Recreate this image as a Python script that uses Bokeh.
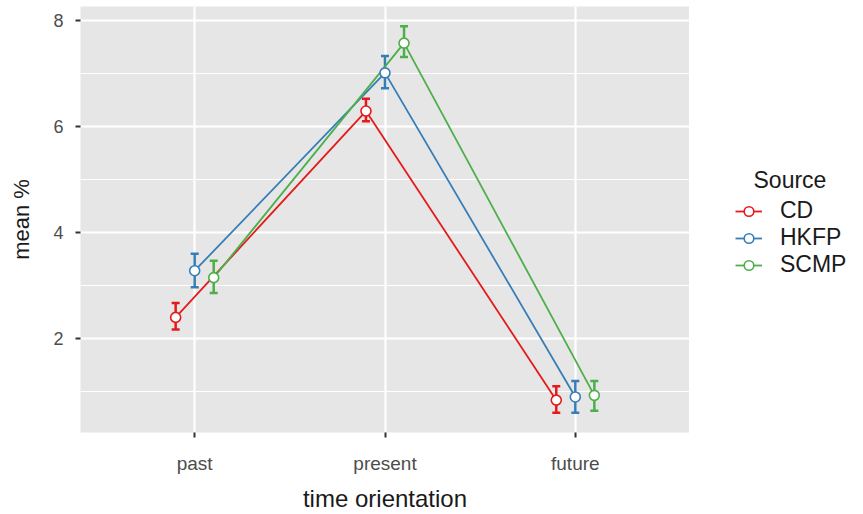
from bokeh.plotting import figure
from bokeh.layouts import row
from bokeh.models import (Range1d, FixedTicker, Legend, LegendItem, ColumnDataSource, Whisker,
                          TeeHead, Label)
from bokeh.embed import file_html
from bokeh.resources import INLINE

categories = ["past", "present", "future"]
sources = ["CD", "HKFP", "SCMP"]
colors = ["#E41A1C", "#377EB8", "#4DAF4A"]

cd_mean = [2.40, 6.29, 0.84]
cd_lower = [2.17, 6.10, 0.60]
cd_upper = [2.67, 6.52, 1.10]

hkfp_mean = [3.28, 7.01, 0.90]
hkfp_lower = [2.97, 6.72, 0.60]
hkfp_upper = [3.60, 7.33, 1.20]

scmp_mean = [3.15, 7.57, 0.93]
scmp_lower = [2.86, 7.31, 0.64]
scmp_upper = [3.47, 7.89, 1.20]

y_ticks = [2, 4, 6, 8]
y_minor = [1, 3, 5, 7]
dodge_offsets = [-0.1, 0.0, 0.1]

FONT = "Liberation Sans"

p = figure(width=689, height=514, output_backend="svg", toolbar_location=None,
           x_range=Range1d(0.4, 3.6), y_range=Range1d(0.23, 8.261),
           min_border_left=80, min_border_right=0, min_border_top=6, min_border_bottom=77,
           background_fill_color="#E6E6E6", border_fill_color="white", outline_line_color=None)

series = [(cd_mean, cd_lower, cd_upper), (hkfp_mean, hkfp_lower, hkfp_upper),
          (scmp_mean, scmp_lower, scmp_upper)]

srcs = []
for (m, lo, up), col, off in zip(series, colors, dodge_offsets):
    xs = [i + 1 + off for i in range(len(categories))]
    src = ColumnDataSource(dict(x=xs, y=m, lower=lo, upper=up))
    p.line("x", "y", source=src, line_color=col, line_width=1.8)
    w = Whisker(source=src, base="x", upper="upper", lower="lower", line_color=col, line_width=2.5,
                upper_head=TeeHead(size=8, line_color=col, line_width=2.5),
                lower_head=TeeHead(size=8, line_color=col, line_width=2.5))
    p.add_layout(w)
    srcs.append(src)

for src, col in zip(srcs, colors):
    p.scatter("x", "y", source=src, size=10, fill_color="white", line_color=col, line_width=1.6)

p.xaxis.ticker = FixedTicker(ticks=[i + 1 for i in range(len(categories))], minor_ticks=[])
p.xaxis.major_label_overrides = {i + 1: c for i, c in enumerate(categories)}
p.yaxis.ticker = FixedTicker(ticks=y_ticks, minor_ticks=y_minor)

p.xgrid.grid_line_color = "white"
p.xgrid.grid_line_width = 2.2
p.ygrid.grid_line_color = "white"
p.ygrid.grid_line_width = 2.2
p.ygrid.minor_grid_line_color = "white"
p.ygrid.minor_grid_line_width = 1.1

p.axis.axis_line_color = None
p.axis.major_tick_line_color = "#333333"
p.axis.major_tick_line_width = 2
p.axis.major_tick_in = 0
p.axis.major_tick_out = 5
p.axis.minor_tick_line_color = None
p.axis.major_label_text_font = FONT
p.axis.major_label_text_color = "#4D4D4D"
p.axis.axis_label_text_font = FONT
p.axis.axis_label_text_font_style = "normal"
p.axis.axis_label_text_color = "#1A1A1A"
p.xaxis.major_label_text_font_size = "19px"
p.yaxis.major_label_text_font_size = "18px"
p.xaxis.axis_label = "time orientation"
p.xaxis.axis_label_text_font_size = "24px"
p.xaxis.major_label_standoff = 15
p.xaxis.axis_label_standoff = 8
p.yaxis.axis_label = "mean %"
p.yaxis.axis_label_text_font_size = "22px"
p.yaxis.major_label_standoff = 12
p.yaxis.axis_label_standoff = 16

# legend panel (separate figure so the legend can sit beside the plotting area;
# its frame is aligned with the main frame, so screen y is measured up from y=437)
lg = figure(width=174, height=514, output_backend="svg", toolbar_location=None,
            x_range=Range1d(-10, -9), y_range=Range1d(-10, -9),
            min_border_left=0, min_border_right=0, min_border_top=0, min_border_bottom=0,
            outline_line_color=None, background_fill_color="white", border_fill_color="white")
lg.axis.visible = False
lg.grid.visible = False

items = []
for name, col, src in zip(sources, colors, srcs):
    lr = lg.line("x", "y", source=src, line_color=col, line_width=1.8)
    cr = lg.scatter("x", "y", source=src, size=10, fill_color="white", line_color=col, line_width=1.6)
    items.append(LegendItem(label=name, renderers=[lr, cr]))

legend = Legend(items=items, location=(46, 154))
legend.label_text_font = FONT
legend.label_text_font_size = "23px"
legend.label_text_color = "#1A1A1A"
legend.label_standoff = 18
legend.glyph_width = 27
legend.glyph_height = 24
legend.label_height = 24
legend.spacing = 0
legend.border_line_color = None
legend.background_fill_alpha = 0
legend.margin = 0
legend.padding = 0
lg.add_layout(legend, "center")

lg.add_layout(Label(x=64, y=253, x_units="screen", y_units="screen", text="Source",
                    text_font=FONT, text_font_size="23px", text_color="#1A1A1A",
                    text_baseline="alphabetic"))

layout = row(p, lg, spacing=0)

open("out.html", "w").write(file_html(layout, INLINE))
